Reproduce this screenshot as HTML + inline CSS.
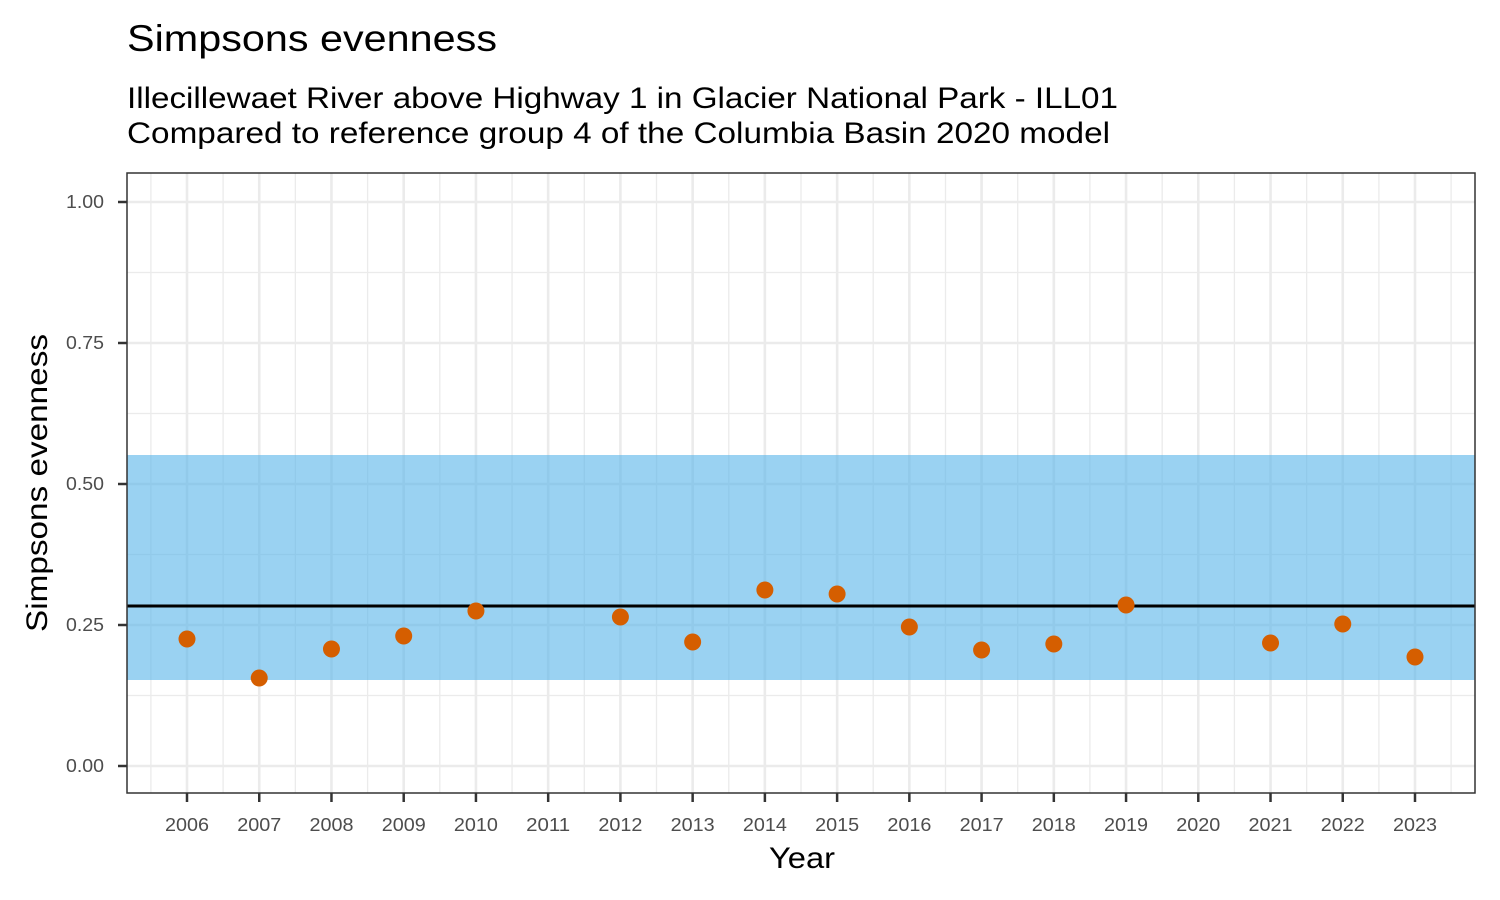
<!DOCTYPE html>
<html><head><meta charset="utf-8"><style>body{margin:0;background:#fff}svg{display:block}</style></head><body>
<svg width="1500" height="900" xmlns="http://www.w3.org/2000/svg" font-family="Liberation Sans, sans-serif">
<rect width="1500" height="900" fill="#fff"/>
<text x="127" y="51" font-size="37" fill="#000" textLength="370" lengthAdjust="spacingAndGlyphs">Simpsons evenness</text>
<text x="127" y="108" font-size="30" fill="#000" textLength="991" lengthAdjust="spacingAndGlyphs">Illecillewaet River above Highway 1 in Glacier National Park - ILL01</text>
<text x="127" y="143" font-size="30" fill="#000" textLength="983" lengthAdjust="spacingAndGlyphs">Compared to reference group 4 of the Columbia Basin 2020 model</text>
<g stroke="#ebebeb" stroke-width="1.3">
<line x1="127" x2="1475" y1="272.5" y2="272.5"/><line x1="127" x2="1475" y1="413.5" y2="413.5"/><line x1="127" x2="1475" y1="554.5" y2="554.5"/><line x1="127" x2="1475" y1="695.5" y2="695.5"/>
</g>
<g stroke="#ebebeb" stroke-width="1.3" id="vminor"></g>
<g stroke="#ebebeb" stroke-width="2.6">
<line x1="127" x2="1475" y1="202" y2="202"/><line x1="127" x2="1475" y1="343" y2="343"/><line x1="127" x2="1475" y1="484" y2="484"/><line x1="127" x2="1475" y1="625" y2="625"/><line x1="127" x2="1475" y1="766" y2="766"/>
</g>
<g stroke="#ebebeb" stroke-width="2.6" id="vmajor"></g>
<rect x="127" y="455" width="1348" height="225" fill="#56b4e9" fill-opacity="0.6"/>
<line x1="127" x2="1475" y1="606" y2="606" stroke="#000" stroke-width="3"/>
<g fill="#d55e00" id="pts"></g>
<rect x="127" y="173" width="1348" height="620" fill="none" stroke="#333" stroke-width="1.5"/>
<g font-size="18" fill="#4d4d4d" text-anchor="end">
<text x="104" y="208" textLength="38" lengthAdjust="spacingAndGlyphs">1.00</text><text x="104" y="349" textLength="38" lengthAdjust="spacingAndGlyphs">0.75</text><text x="104" y="490" textLength="38" lengthAdjust="spacingAndGlyphs">0.50</text><text x="104" y="631" textLength="38" lengthAdjust="spacingAndGlyphs">0.25</text><text x="104" y="772" textLength="38" lengthAdjust="spacingAndGlyphs">0.00</text>
</g>
<g stroke="#333" stroke-width="2.5">
<line x1="118" x2="127" y1="202" y2="202"/><line x1="118" x2="127" y1="343" y2="343"/><line x1="118" x2="127" y1="484" y2="484"/><line x1="118" x2="127" y1="625" y2="625"/><line x1="118" x2="127" y1="766" y2="766"/>
</g>
<g id="xt" font-size="18" fill="#4d4d4d" text-anchor="middle"></g>
<g id="xtk" stroke="#333" stroke-width="2.5"></g>
<text x="802" y="868" font-size="30" text-anchor="middle" textLength="66" lengthAdjust="spacingAndGlyphs">Year</text>
<text transform="translate(47,483) rotate(-90)" font-size="30" text-anchor="middle" textLength="298" lengthAdjust="spacingAndGlyphs">Simpsons evenness</text>
<script>
var ns="http://www.w3.org/2000/svg";function X(y){return 187+(y-2006)*72.235;}
function el(p,t,a,txt){var e=document.createElementNS(ns,t);for(var k in a)e.setAttribute(k,a[k]);if(txt)e.textContent=txt;document.getElementById(p).appendChild(e);}
for(var y=2006;y<=2023;y++){el('vmajor','line',{x1:X(y),x2:X(y),y1:173,y2:793});el('xt','text',{x:X(y),y:831,textLength:44,lengthAdjust:'spacingAndGlyphs'},String(y));el('xtk','line',{x1:X(y),x2:X(y),y1:793,y2:802});}
for(var y=2005.5;y<=2023.5;y++){el('vminor','line',{x1:X(y),x2:X(y),y1:173,y2:793});}
var d=[[2006,639],[2007,678],[2008,649],[2009,636],[2010,611],[2012,617],[2013,642],[2014,590],[2015,594],[2016,627],[2017,650],[2018,644],[2019,605],[2021,643],[2022,624],[2023,657]];
d.forEach(function(p){el('pts','circle',{cx:X(p[0]),cy:p[1],r:8.5});});
</script>
</svg>
</body></html>
